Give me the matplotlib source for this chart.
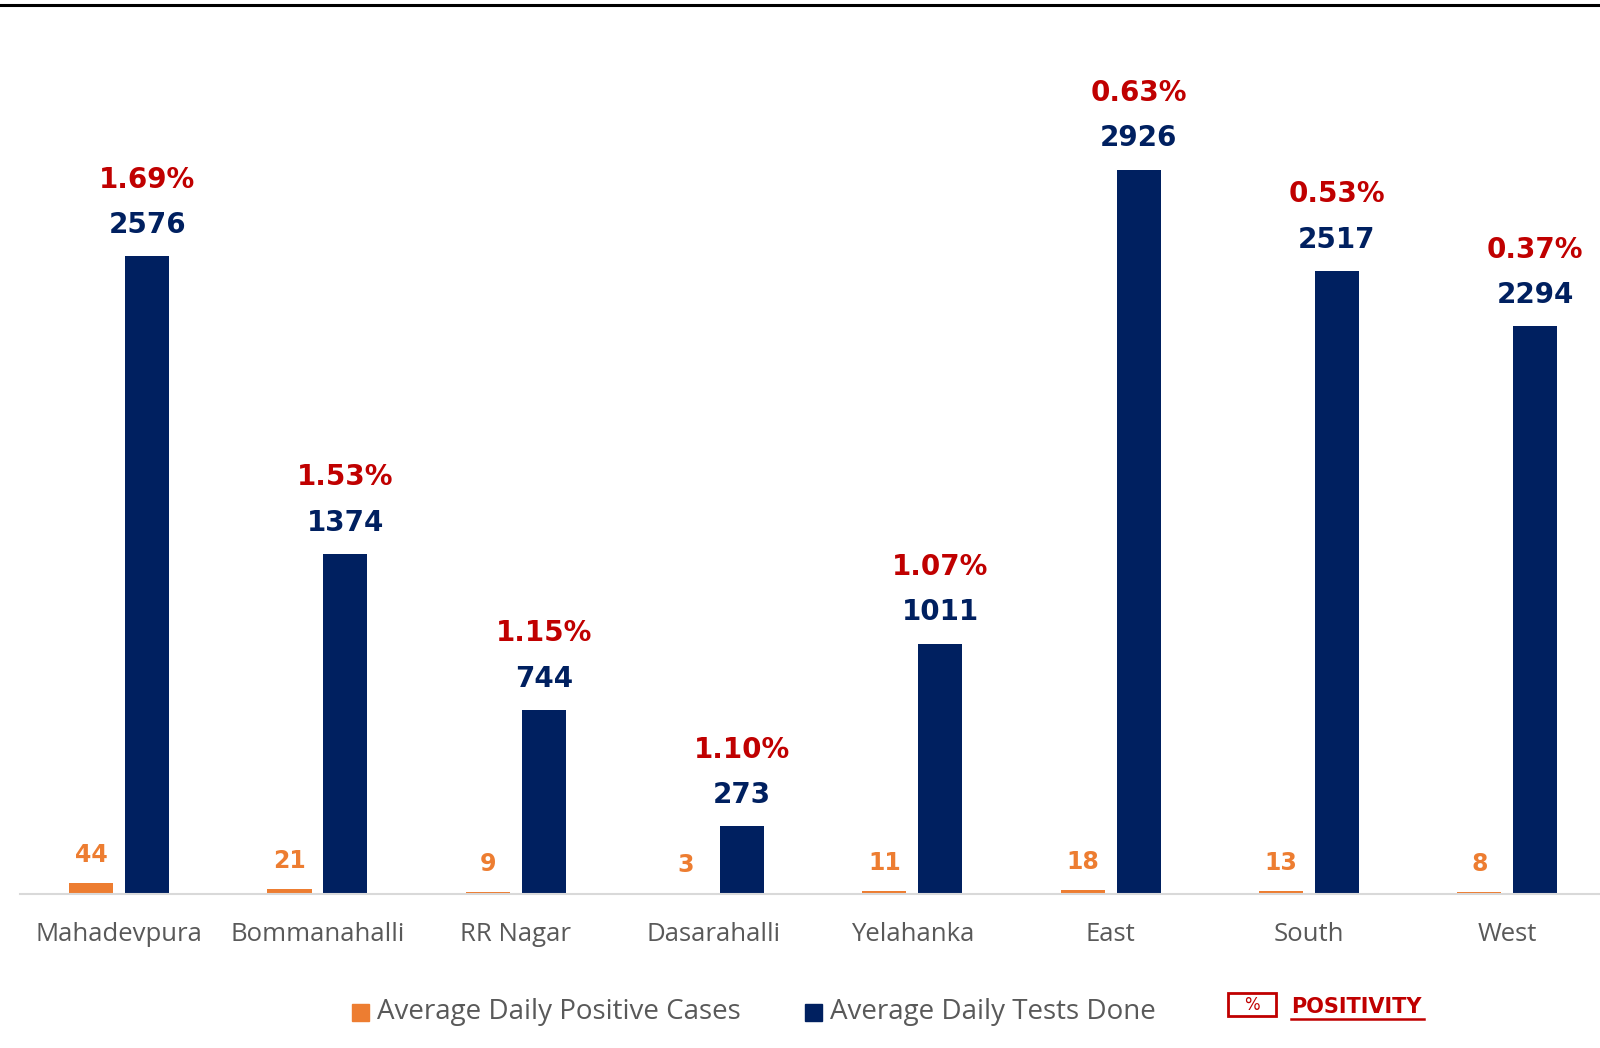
import matplotlib
matplotlib.use("Agg")
import matplotlib.pyplot as plt
from matplotlib.patches import Rectangle
from matplotlib.lines import Line2D
import numpy as np

categories = ["Mahadevpura", "Bommanahalli", "RR Nagar", "Dasarahalli",
              "Yelahanka", "East", "South", "West"]
tests_done = [2576, 1374, 744, 273, 1011, 2926, 2517, 2294]
positive_cases = [44, 21, 9, 3, 11, 18, 13, 8]
positivity = [1.69, 1.53, 1.15, 1.10, 1.07, 0.63, 0.53, 0.37]

ORANGE = "#ED7D31"
NAVY = "#002060"
RED = "#C00000"
GRAY = "#595959"

W, H = 1600, 1048
fig = plt.figure(figsize=(W / 100, H / 100), dpi=100)

base_y = 894
top_y = 50
left_x = 20
cat_w = 198.3
ax = fig.add_axes([left_x / W, (H - base_y) / H, 8 * cat_w / W, (base_y - top_y) / H])
ymax = 2926 * (base_y - top_y) / 724.5
ax.set_ylim(0, ymax)
ax.set_xlim(-0.5, 7.5)

x = np.arange(len(categories))
bw = 0.222
off = 0.141
ax.bar(x - off, positive_cases, bw, color=ORANGE, zorder=2)
ax.bar(x + off, tests_done, bw, color=NAVY, zorder=2)

for xi, c, t, p in zip(x, positive_cases, tests_done, positivity):
    ax.annotate(f"{c}", (xi - off, c), xytext=(0, 20), textcoords="offset points",
                ha="center", va="center", fontsize=17, fontweight="bold",
                color=ORANGE, family="DejaVu Sans")
    ax.annotate(f"{t}", (xi + off, t), xytext=(0, 22.5), textcoords="offset points",
                ha="center", va="center", fontsize=20, fontweight="bold",
                color=NAVY, family="DejaVu Sans")
    ax.annotate(f"{p:.2f}%", (xi + off, t), xytext=(0, 55), textcoords="offset points",
                ha="center", va="center", fontsize=20, fontweight="bold",
                color=RED, family="DejaVu Sans")

for s in ["top", "right", "left"]:
    ax.spines[s].set_visible(False)
ax.spines["bottom"].set_color("#D9D9D9")
ax.spines["bottom"].set_linewidth(1.5)
ax.set_yticks([])
ax.set_xticks(x)
ax.set_xticklabels(categories, fontsize=18.5, color=GRAY, family="Open Sans")
ax.tick_params(axis="x", length=0, pad=20)

# top rule
fig.add_artist(Line2D([0, 1], [1 - 5 / H, 1 - 5 / H], color="black", lw=2.2,
                      transform=fig.transFigure))

# legend (manual)
ly = 1 - 1012 / H
sq = 17
fig.add_artist(Rectangle((352 / W, ly - sq / 2 / H), sq / W, sq / H, color=ORANGE,
                         transform=fig.transFigure))
fig.text(377 / W, ly, "Average Daily Positive Cases", fontsize=20, color=GRAY,
         va="center", ha="left", family="Open Sans")
fig.add_artist(Rectangle((805 / W, ly - sq / 2 / H), sq / W, sq / H, color=NAVY,
                         transform=fig.transFigure))
fig.text(830 / W, ly, "Average Daily Tests Done", fontsize=20, color=GRAY,
         va="center", ha="left", family="Open Sans")
fig.add_artist(Rectangle((1228 / W, 1 - 1016 / H), 48 / W, 23 / H, fill=False,
                         edgecolor=RED, lw=2, transform=fig.transFigure))
fig.text(1252 / W, 1 - 1005 / H, "%", fontsize=12, color=RED, va="center",
         ha="center", family="DejaVu Sans")
fig.text(1291 / W, 1 - 1007 / H, "POSITIVITY", fontsize=15, color=RED,
         fontweight="bold", va="center", ha="left", family="DejaVu Sans")
fig.add_artist(Line2D([1291 / W, 1424 / W], [1 - 1019 / H, 1 - 1019 / H],
                      color=RED, lw=1.8, transform=fig.transFigure))

fig.savefig("out.png", dpi=100)
